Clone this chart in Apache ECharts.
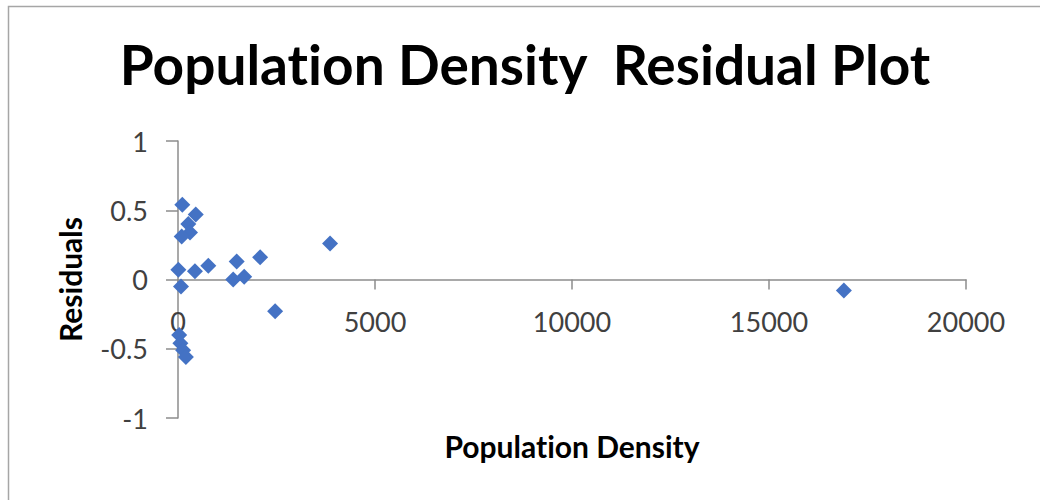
<!DOCTYPE html>
<html>
<head>
<meta charset="utf-8">
<script src="https://cdn.jsdelivr.net/npm/echarts@6/dist/echarts.min.js"></script>
<style>
html,body{margin:0;padding:0;background:#fff;}
#c{width:1040px;height:500px;font-variant-ligatures:none;}
#c text{font-variant-ligatures:none;}
</style>
</head>
<body>
<div id="c"></div>
<script>
var titleText = 'Population Density  Residual Plot';
var xAxisName = 'Population Density';
var yAxisName = 'Residuals';
var densityValues = [110, 450, 262, 305, 94, 10, 76, 430, 770, 1490, 1400, 1680, 2085, 3860, 2465, 16900, 30, 60, 130, 200];
var residualValues = [0.54, 0.47, 0.40, 0.34, 0.31, 0.07, -0.05, 0.06, 0.10, 0.13, 0.00, 0.02, 0.16, 0.26, -0.23, -0.08, -0.40, -0.46, -0.51, -0.56];

var points = densityValues.map(function (x, i) { return [x, residualValues[i]]; });
var font = 'Lato';
var chart = echarts.init(document.getElementById('c'), null, {renderer: 'svg'});
chart.setOption({
  animation: false,
  graphic: [{
    type: 'rect', left: 6, top: 4, shape: {width: 1040, height: 500},
    style: {fill: 'none', stroke: '#a6a6a6', lineWidth: 1.5}, silent: true
  }],
  title: {
    text: titleText, left: 520, textAlign: 'center', top: 31,
    textStyle: {fontFamily: font, fontWeight: 'bold', fontSize: 55, color: '#000'}
  },
  grid: {left: 178, right: 74, top: 141, height: 277, outerBoundsMode: 'none', containLabel: false},
  xAxis: {
    type: 'value', min: 0, max: 20000, interval: 5000,
    position: 'bottom', offset: -138.5,
    name: xAxisName, nameLocation: 'middle', nameGap: 151,
    nameTextStyle: {fontFamily: font, fontWeight: 'bold', fontSize: 30, color: '#000'},
    axisLine: {onZero: false, lineStyle: {color: '#8c8c8c', width: 1.5}},
    axisTick: {show: true, length: 10, lineStyle: {color: '#8c8c8c', width: 1.5}},
    axisLabel: {margin: 28, fontFamily: font, fontSize: 27, color: '#404040',
      formatter: function (v) { return String(v); }},
    splitLine: {show: false}
  },
  yAxis: {
    type: 'value', min: -1, max: 1, interval: 0.5,
    name: yAxisName, nameLocation: 'middle', nameGap: 93,
    nameTextStyle: {fontFamily: font, fontWeight: 'bold', fontSize: 30, color: '#000'},
    axisLine: {show: true, lineStyle: {color: '#8c8c8c', width: 1.5}},
    axisTick: {show: true, length: 12, lineStyle: {color: '#8c8c8c', width: 1.5}},
    axisLabel: {margin: 30, fontFamily: font, fontSize: 27, color: '#404040',
      formatter: function (v) { return String(v); }},
    splitLine: {show: false}
  },
  series: [{
    type: 'scatter', data: points, symbol: 'diamond', symbolSize: 16,
    itemStyle: {color: '#4472C4', opacity: 1}
  }]
});
</script>
</body>
</html>
